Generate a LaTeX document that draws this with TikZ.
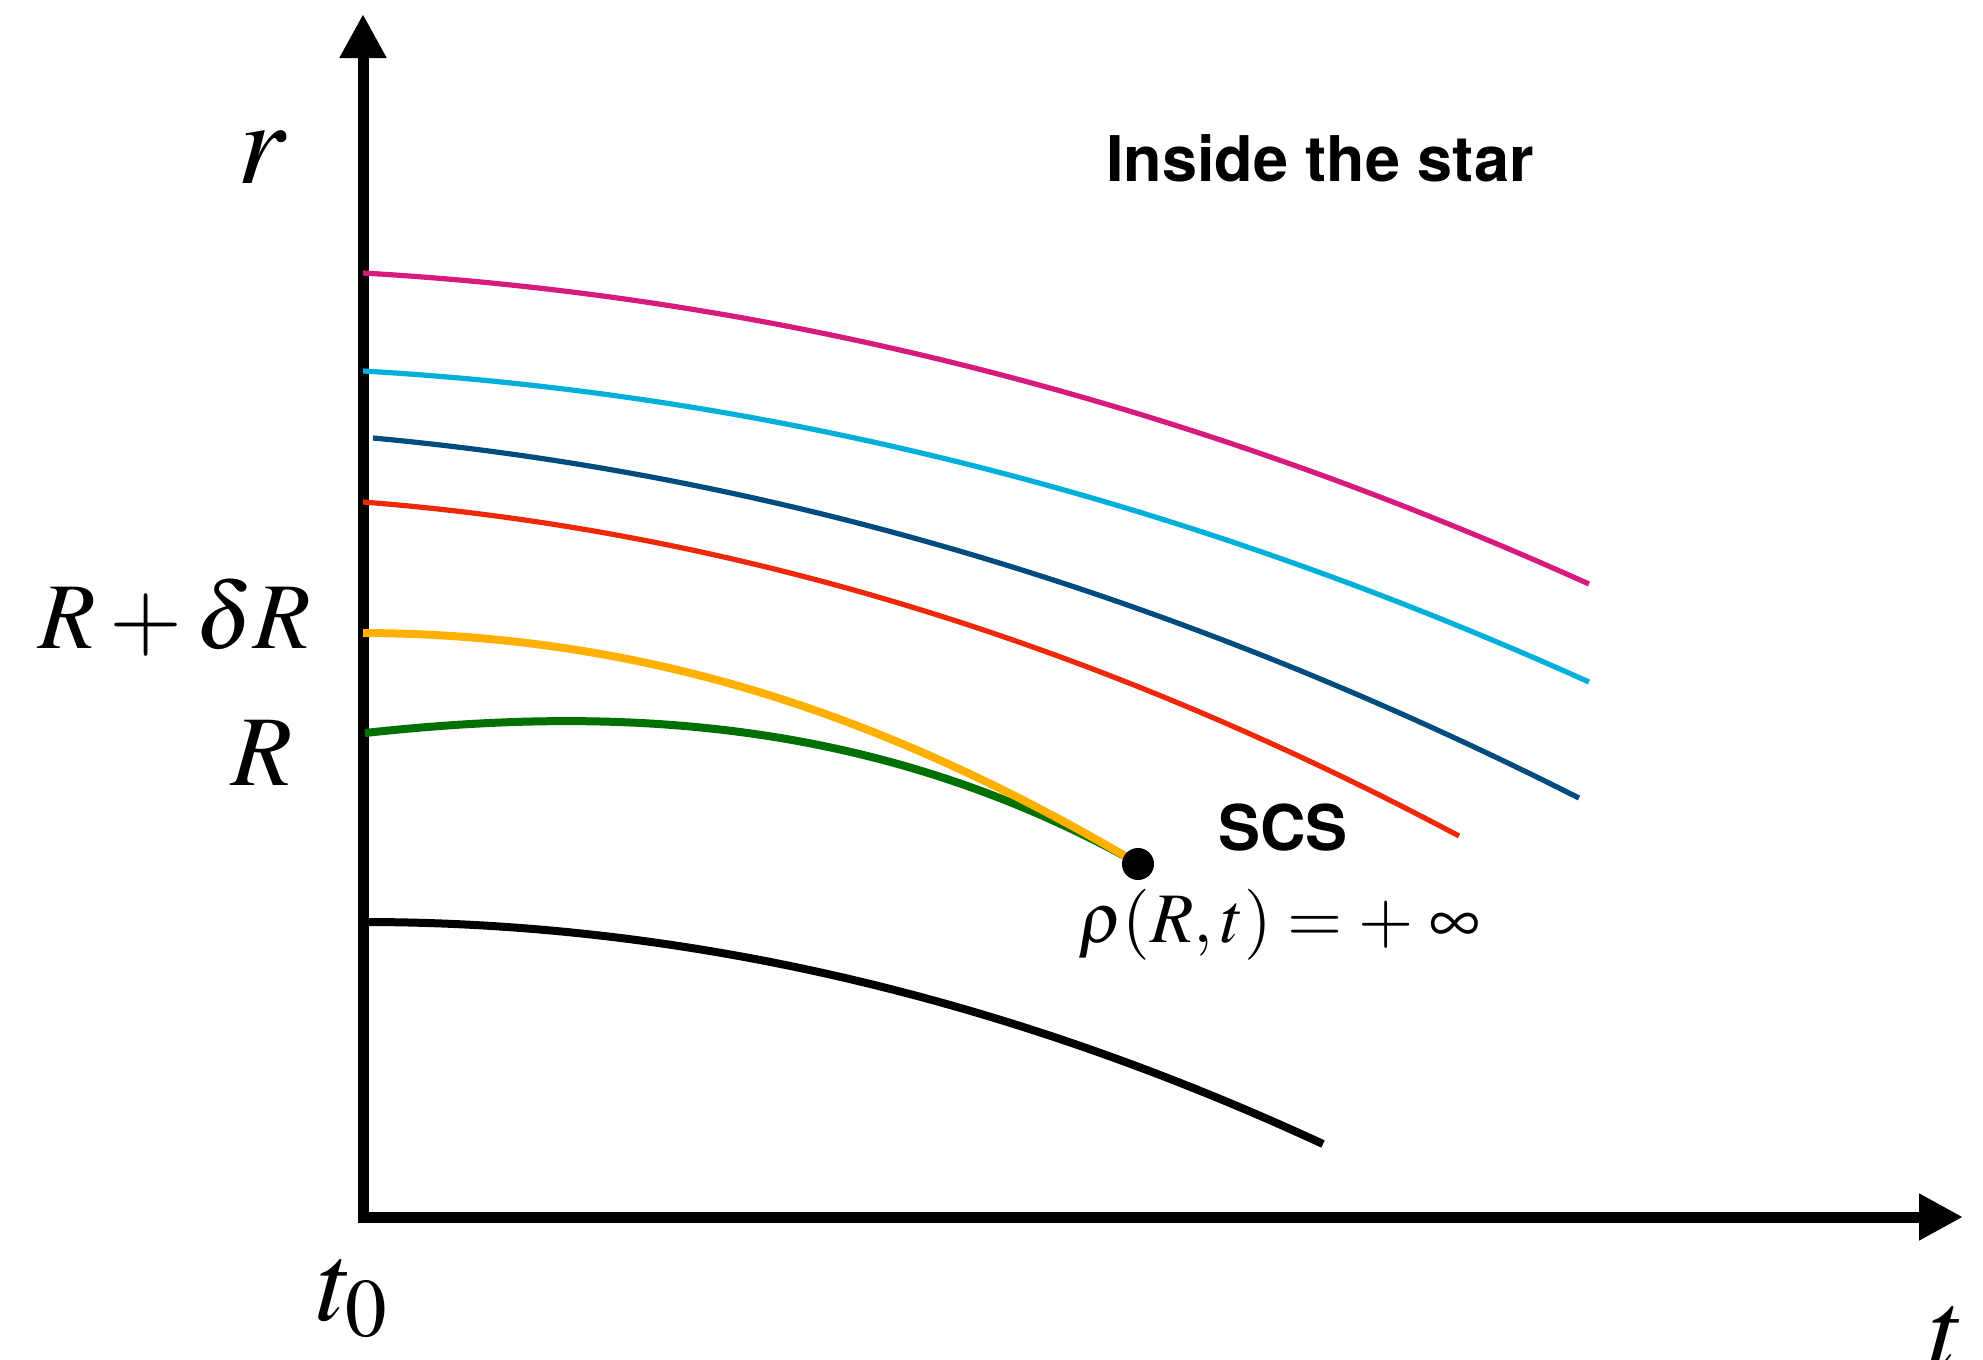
\documentclass[tikz,border=0pt]{standalone}
\usepackage{mathptmx}
\usepackage[no-math]{fontspec}
\newfontfamily\helv{TeX Gyre Heros}
\usetikzlibrary{arrows.meta}
\definecolor{cmag}{RGB}{214,26,126}
\definecolor{ccyan}{RGB}{0,176,219}
\definecolor{cdblue}{RGB}{0,76,127}
\definecolor{cred}{RGB}{240,40,10}
\definecolor{corange}{RGB}{255,176,0}
\definecolor{cgreen}{RGB}{0,112,0}
\begin{document}
\begin{tikzpicture}[x=0.5pt,y=-0.5pt,
  axisline/.style={line width=5.5pt, line join=miter,
    {Triangle[length=22pt,width=22pt]}-{Triangle[length=22pt,width=22pt]}},
  thincurve/.style={line width=2.6pt},
  thickcurve/.style={line width=4pt},
  lbl/.style={inner sep=0pt, outer sep=0pt},
  sanslbl/.style={inner sep=0pt, outer sep=0pt, font=\helv\bfseries\fontsize{31.5}{34}\selectfont}]
\useasboundingbox (0,0) rectangle (1983,1360);
% axes
\coordinate (ytip) at (363,14);
\coordinate (origin) at (363,1217);
\coordinate (xtip) at (1963,1217);
\draw[axisline] (ytip) -- (origin) -- (xtip);
% curves
\coordinate (m0) at (363,273);  \coordinate (m1) at (1589,584);
\coordinate (c0) at (363,371);  \coordinate (c1) at (1589,682);
\coordinate (d0) at (373,438);  \coordinate (d1) at (1579,798);
\coordinate (r0) at (363,502);  \coordinate (r1) at (1459,836);
\coordinate (o0) at (363,633);
\coordinate (g0) at (365,733);
\coordinate (k0) at (363,922);  \coordinate (k1) at (1323,1144);
\coordinate (join) at (1132,860);
\draw[thincurve, cmag] (m0) .. controls (771.7,296.5) and (1180.3,400.2) .. (m1);
\draw[thincurve, ccyan] (c0) .. controls (771.7,394.5) and (1180.3,498.2) .. (c1);
\draw[thincurve, cdblue] (d0) .. controls (775,475.2) and (1177,595.2) .. (d1);
\draw[thincurve, cred] (r0) .. controls (728.3,530.4) and (1093.7,641.7) .. (r1);
\draw[thickcurve, cgreen] (g0) .. controls (621,704.8) and (876,719.2) .. (join);
\draw[thickcurve, corange] (o0) .. controls (640,634) and (880,712) .. (join);
\draw[thickcurve, black] (k0) .. controls (683,922) and (1003,996) .. (k1);
% singular point
\node[circle, fill=black, minimum size=16pt, inner sep=0pt] (scs) at (1138,864) {};
% labels
\node[lbl, anchor=center] (rlabel) at (262,157) {\fontsize{60}{64}\selectfont $r$};
\node[lbl, anchor=base] (RdR) at (175,648) {\fontsize{47}{50}\selectfont $R+\delta R$};
\node[lbl, anchor=base] (Rlabel) at (262,785) {\fontsize{50}{54}\selectfont $R$};
\node[lbl, anchor=base] (t0) at (353,1320) {\fontsize{56}{60}\selectfont $t_0$};
\node[lbl, anchor=base] (tlabel) at (1947,1367) {\fontsize{56}{60}\selectfont $t$};
\node[sanslbl, anchor=base] (title) at (1320,181) {Inside the star};
\node[sanslbl, anchor=base] (scslabel) at (1283,850) {SCS};
\node[lbl, anchor=base] (rho) at (1279,942) {\fontsize{35.5}{38}\selectfont $\rho(R,t)=+\;\infty$};
\end{tikzpicture}
\end{document}
